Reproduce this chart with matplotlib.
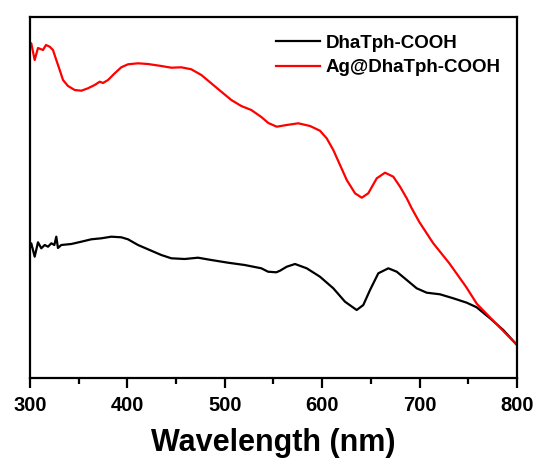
import matplotlib
matplotlib.use("Agg")
import matplotlib.pyplot as plt
from matplotlib.ticker import MultipleLocator

plt.rcParams["font.family"] = ["Liberation Sans", "DejaVu Sans"]
plt.rcParams["font.weight"] = "bold"

# UV-vis absorbance spectra (arbitrary units)
wl_bare = [300, 301.3, 304.8, 308.2, 311.6, 315.1, 318.5, 321.9, 325, 327.0, 328.7,
           332.1, 342.4, 352.7, 362.9, 373.2, 383.5, 393.7, 400.6, 410.9, 424.5,
           434.8, 445.1, 458.8, 472.5, 486.1, 503.3, 520.4, 537.5, 544.4, 552.9,
           556.7, 563.6, 572.1, 584.1, 597.7, 611.4, 623.4, 635.4, 642.2, 649.1,
           657.6, 667.9, 676.5, 686.8, 697.0, 707.3, 720.9, 734.6, 748.4, 758.6,
           772.3, 785.9, 800]
abs_bare = [1.30, 1.347, 1.213, 1.357, 1.297, 1.33, 1.313, 1.347, 1.33, 1.413, 1.30,
            1.33, 1.34, 1.363, 1.387, 1.397, 1.413, 1.407, 1.387, 1.33, 1.273,
            1.23, 1.197, 1.19, 1.203, 1.18, 1.153, 1.13, 1.097, 1.063, 1.057,
            1.073, 1.113, 1.14, 1.097, 1.013, 0.897, 0.763, 0.68, 0.73, 0.88,
            1.047, 1.097, 1.063, 0.98, 0.897, 0.853, 0.837, 0.797, 0.753, 0.707,
            0.597, 0.48, 0.33]

wl_ag = [300, 301.3, 304.8, 308.2, 313.3, 316.4, 320.2, 323.6, 327.0, 330.5, 333.9,
         339.0, 345.9, 352.7, 359.5, 366.4, 371.6, 374.9, 380.1, 387.0, 393.7,
         400.6, 410.9, 421.1, 434.8, 445.1, 455.3, 465.6, 475.9, 486.1, 496.4,
         506.7, 516.9, 527.2, 537.5, 544.7, 553.3, 563.6, 575.5, 587.5, 597.7,
         604.6, 611.4, 618.3, 625.2, 633.7, 640.6, 647.3, 656.0, 664.5, 673.0,
         679.9, 686.8, 691.9, 699.7, 713.8, 730.5, 747.6, 758.9, 776.4, 800]
abs_ag = [3.33, 3.347, 3.18, 3.30, 3.28, 3.33, 3.313, 3.28, 3.18, 3.08, 2.98,
          2.92, 2.88, 2.873, 2.897, 2.93, 2.963, 2.95, 2.98, 3.047, 3.107,
          3.137, 3.147, 3.14, 3.12, 3.103, 3.107, 3.087, 3.03, 2.947, 2.863,
          2.78, 2.72, 2.68, 2.61, 2.55, 2.513, 2.53, 2.547, 2.52, 2.473,
          2.397, 2.28, 2.13, 1.98, 1.847, 1.803, 1.847, 1.997, 2.053, 2.013,
          1.913, 1.797, 1.697, 1.56, 1.35, 1.147, 0.913, 0.74, 0.565, 0.33]

fig = plt.figure(figsize=(5.36, 4.59), dpi=100)
ax = fig.add_axes([30 / 536, 1 - 378 / 459, 487 / 536, 361 / 459])

ax.plot(wl_bare, abs_bare, color="black", lw=1.6, label="DhaTph-COOH")
ax.plot(wl_ag, abs_ag, color="#ff0000", lw=1.6, label="Ag@DhaTph-COOH")

ax.set_xlim(300, 800)
ax.set_ylim(0, 3.61)
ax.xaxis.set_major_locator(MultipleLocator(100))
ax.xaxis.set_minor_locator(MultipleLocator(50))
ax.tick_params(axis="x", which="major", direction="out", length=7, width=1.6,
               labelsize=14.5, pad=6)
ax.tick_params(axis="x", which="minor", direction="out", length=4, width=1.6)
ax.set_yticks([])
for lbl in ax.get_xticklabels():
    lbl.set_fontweight("bold")
for sp in ax.spines.values():
    sp.set_linewidth(1.6)

ax.set_xlabel("Wavelength (nm)", fontsize=22, fontweight="bold", labelpad=9)

leg = ax.legend(loc="upper left", bbox_to_anchor=(0.505, 0.951), frameon=False,
                fontsize=13.5, handlelength=2.35, handletextpad=0.3,
                labelspacing=0.4, borderpad=0, borderaxespad=0)
for t in leg.get_texts():
    t.set_fontweight("bold")

fig.savefig("out.png", dpi=100)
